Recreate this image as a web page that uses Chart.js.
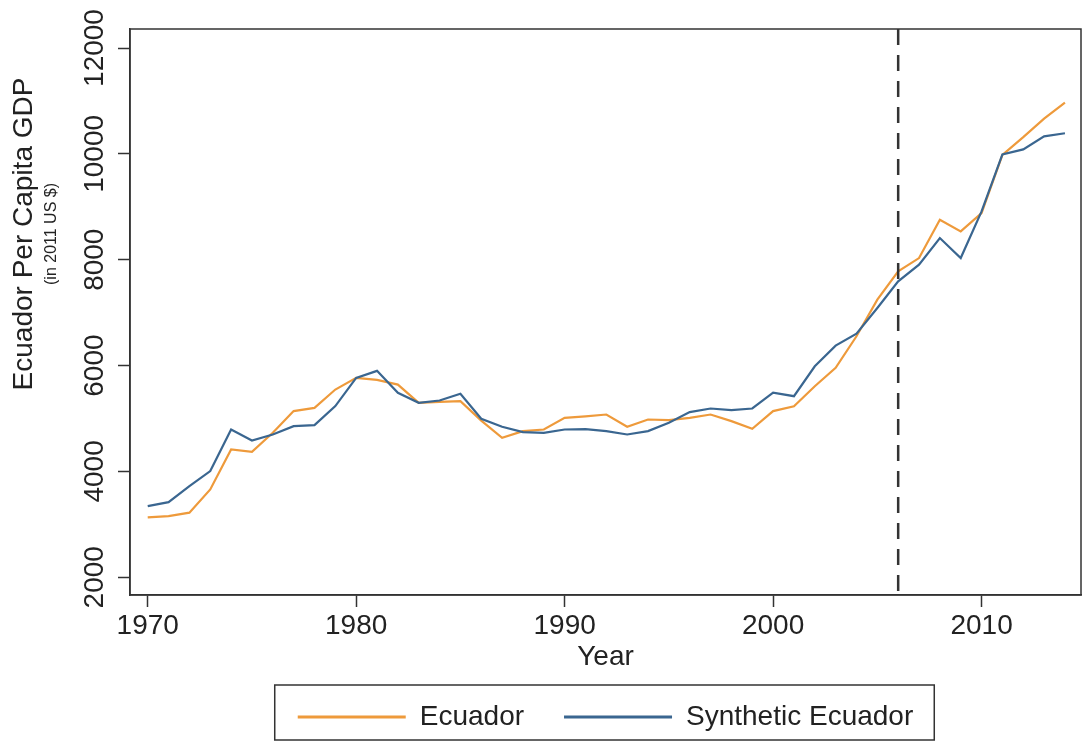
<!DOCTYPE html>
<html>
<head>
<meta charset="utf-8">
<script src="https://cdn.jsdelivr.net/npm/chart.js@4.4.1/dist/chart.umd.min.js"></script>
<style>
  html, body { margin: 0; padding: 0; background: #ffffff; }
  #wrap { width: 1082px; height: 744px; }
</style>
</head>
<body>
<div id="wrap"><canvas id="c" width="1082" height="744"></canvas></div>
<script>
// Per capita GDP (2011 US $), 1970-2014
const years = [1970, 1971, 1972, 1973, 1974, 1975, 1976, 1977, 1978, 1979,
               1980, 1981, 1982, 1983, 1984, 1985, 1986, 1987, 1988, 1989,
               1990, 1991, 1992, 1993, 1994, 1995, 1996, 1997, 1998, 1999,
               2000, 2001, 2002, 2003, 2004, 2005, 2006, 2007, 2008, 2009,
               2010, 2011, 2012, 2013, 2014];

const ecuador = [3130, 3157, 3220, 3660, 4415, 4370, 4730, 5140, 5200, 5547,
                 5768, 5730, 5641, 5296, 5315, 5327, 4960, 4635, 4760, 4792,
                 5013, 5040, 5075, 4843, 4981, 4968, 5013, 5075, 4950, 4805,
                 5140, 5232, 5610, 5956, 6553, 7245, 7780, 8031, 8755, 8535,
                 8880, 9980, 10315, 10666, 10968];

const syntheticEcuador = [3345, 3420, 3723, 4006, 4790, 4585, 4698, 4855, 4875, 5235,
                          5768, 5900, 5485, 5296, 5340, 5466, 4994, 4843, 4742, 4730,
                          4792, 4800, 4761, 4698, 4761, 4918, 5120, 5189, 5157, 5189,
                          5490, 5421, 5987, 6377, 6604, 7088, 7591, 7906, 8409, 8031,
                          8912, 9990, 10085, 10330, 10390];

const xTickValues = [1970, 1980, 1990, 2000, 2010];
const yTickValues = [2000, 4000, 6000, 8000, 10000, 12000];
const treatmentYear = 2006;

const FONT = "'Liberation Sans', Arial, Helvetica, sans-serif";
const INK = '#222222';
const AXIS = '#333333';

const toPoints = (vals) => vals.map((v, i) => ({ x: years[i], y: v }));

// Dashed treatment line, full plot frame, y-axis titles and legend frame
const decorations = {
  id: 'decorations',
  afterDatasetsDraw(chart) {
    const { ctx, chartArea: a, scales: { x } } = chart;
    const px = x.getPixelForValue(treatmentYear);
    ctx.save();
    ctx.strokeStyle = AXIS;
    ctx.lineWidth = 2.5;
    ctx.setLineDash([16, 10]);
    ctx.beginPath();
    ctx.moveTo(px, a.top);
    ctx.lineTo(px, a.bottom);
    ctx.stroke();
    ctx.restore();
  },
  afterDraw(chart) {
    const { ctx, chartArea: a, legend } = chart;
    ctx.save();
    ctx.strokeStyle = AXIS;
    ctx.lineWidth = 1.5;
    ctx.strokeRect(a.left, a.top, a.right - a.left, a.bottom - a.top);

    // y-axis title with its unit line underneath
    ctx.fillStyle = INK;
    ctx.textAlign = 'center';
    ctx.textBaseline = 'middle';
    ctx.translate(24, 234);
    ctx.rotate(-Math.PI / 2);
    ctx.font = `28px ${FONT}`;
    ctx.fillText('Ecuador Per Capita GDP', 0, 0);
    ctx.font = `16px ${FONT}`;
    ctx.fillText('(in 2011 US $)', 0, 28);
    ctx.restore();

    // frame around the legend entries
    const hb = legend.legendHitBoxes;
    if (hb && hb.length) {
      const first = hb[0], last = hb[hb.length - 1];
      const cy = first.top + first.height / 2;
      const left = first.left - 23;
      const right = last.left + last.width + 21;
      ctx.save();
      ctx.strokeStyle = AXIS;
      ctx.lineWidth = 1.5;
      ctx.strokeRect(left, cy - 32, right - left, 55);
      ctx.restore();
    }
  }
};

new Chart(document.getElementById('c'), {
  type: 'line',
  data: {
    datasets: [
      {
        label: 'Ecuador',
        data: toPoints(ecuador),
        borderColor: '#EE9A3B',
        backgroundColor: '#EE9A3B',
        borderWidth: 2.2,
        pointRadius: 0,
        tension: 0,
        order: 1
      },
      {
        label: 'Synthetic Ecuador',
        data: toPoints(syntheticEcuador),
        borderColor: '#3A6690',
        backgroundColor: '#3A6690',
        borderWidth: 2.2,
        pointRadius: 0,
        tension: 0,
        order: 0
      }
    ]
  },
  options: {
    responsive: false,
    animation: false,
    devicePixelRatio: 1,
    layout: { padding: { top: 29, right: 1, left: 0, bottom: 3 } },
    plugins: {
      tooltip: { enabled: false },
      legend: {
        position: 'bottom',
        fullSize: false,
        labels: {
          sort: (a, b) => a.datasetIndex - b.datasetIndex,
          boxWidth: 108,
          boxHeight: 3,
          padding: 40,
          color: INK,
          font: { family: FONT, size: 28 },
          generateLabels(chart) {
            return chart.data.datasets.map((ds, i) => ({
              text: ds.label,
              fillStyle: ds.borderColor,
              strokeStyle: ds.borderColor,
              lineWidth: 0,
              hidden: false,
              datasetIndex: i,
              fontColor: INK
            }));
          }
        }
      }
    },
    scales: {
      x: {
        type: 'linear',
        min: 1969.15,
        max: 2014.77,
        afterBuildTicks: (s) => { s.ticks = xTickValues.map(v => ({ value: v })); },
        afterFit: (s) => { s.height = 68; },
        grid: { drawOnChartArea: false, drawTicks: true, tickLength: 12, tickWidth: 1.5, tickColor: AXIS },
        border: { display: true, color: AXIS, width: 1.5 },
        ticks: {
          autoSkip: false, maxRotation: 0, padding: 2,
          color: INK, font: { family: FONT, size: 28 },
          callback: (v) => String(v)
        },
        title: {
          display: true, text: 'Year', color: INK,
          font: { family: FONT, size: 28 },
          padding: { top: 0, bottom: -11 }
        }
      },
      y: {
        type: 'linear',
        min: 1665,
        max: 12359,
        afterBuildTicks: (s) => { s.ticks = yTickValues.map(v => ({ value: v })); },
        afterFit: (s) => { s.width = 130; },
        grid: { drawOnChartArea: false, drawTicks: true, tickLength: 12, tickWidth: 1.5, tickColor: AXIS },
        border: { display: true, color: AXIS, width: 1.5 },
        ticks: {
          autoSkip: false, minRotation: 90, maxRotation: 90, crossAlign: 'center', padding: -16,
          color: INK, font: { family: FONT, size: 28 },
          callback: (v) => String(v)
        }
      }
    }
  },
  plugins: [decorations]
});
</script>
</body>
</html>
